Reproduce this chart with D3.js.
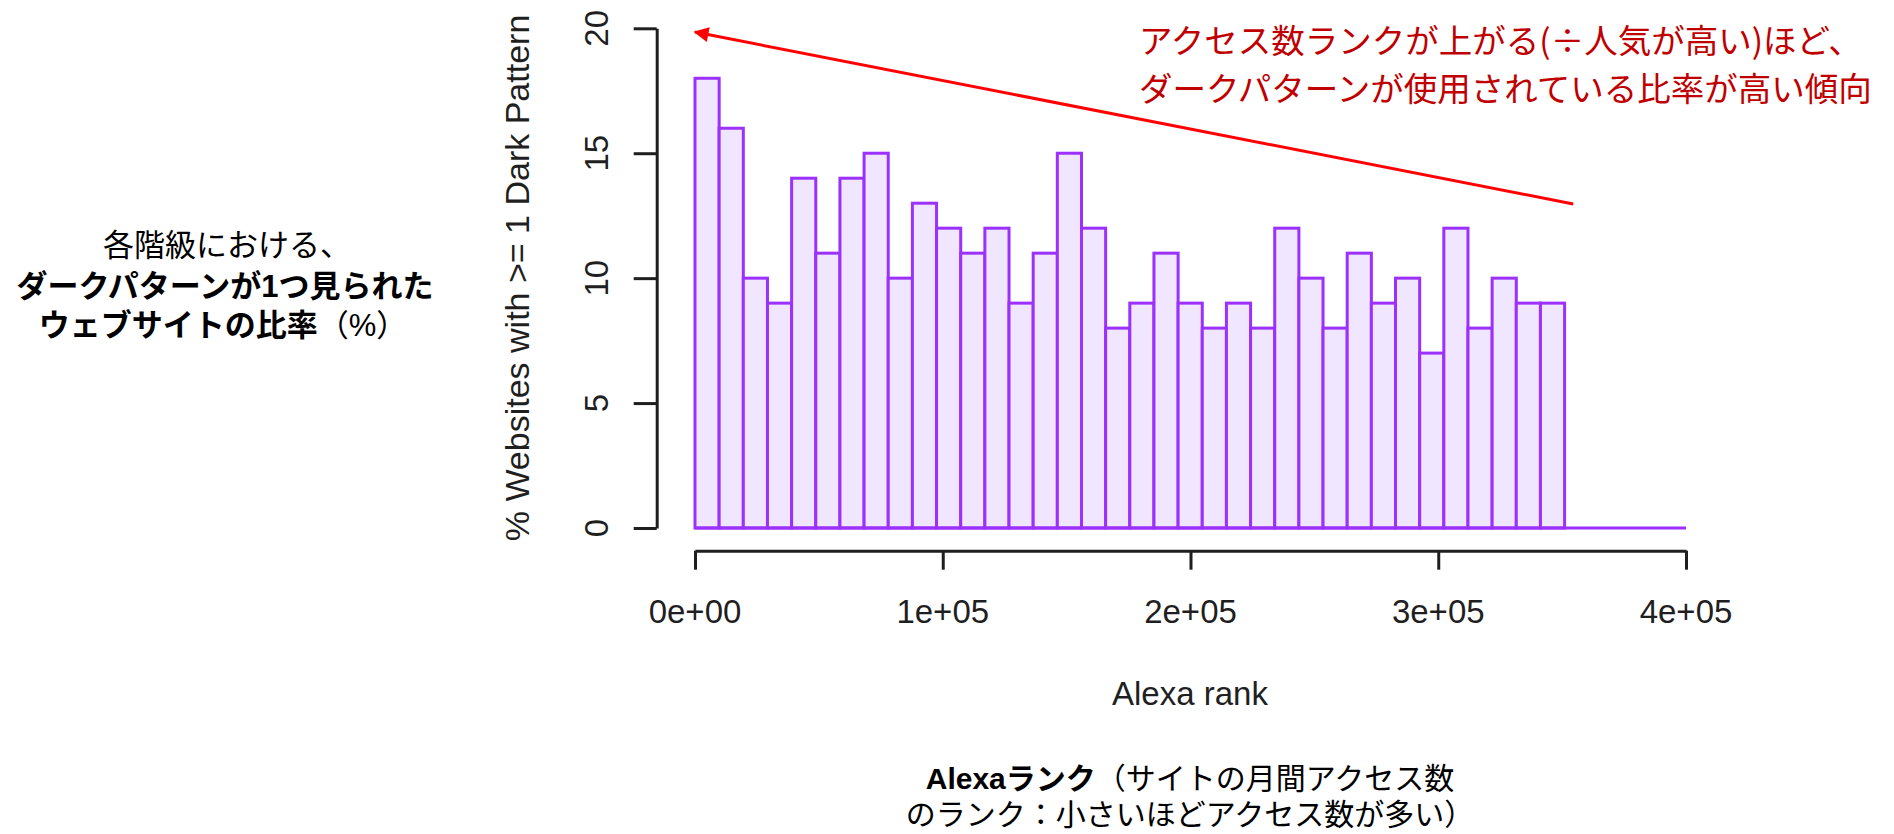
<!DOCTYPE html>
<html>
<head>
<meta charset="utf-8">
<script src="https://cdn.jsdelivr.net/npm/d3@7/dist/d3.min.js"></script>
<style>
	html, body { margin: 0; padding: 0; background: #fff; }
	svg { display: block; }
</style>
</head>
<body>
<div id="chart"></div>
<script>
// histogram of Alexa rank, bins of ~9750 ranks starting at 0
const binWidth = 9750;
const percents = [18, 16, 10, 9, 14, 11, 14, 15, 10, 13, 12, 11, 12, 9, 11, 15, 12, 8,
	9, 11, 9, 8, 9, 8, 12, 10, 8, 11, 9, 10, 7, 12, 8, 10, 9, 9];

const xTicks = [0, 100000, 200000, 300000, 400000];
const xTickLabels = ["0e+00", "1e+05", "2e+05", "3e+05", "4e+05"];
const yTicks = [0, 5, 10, 15, 20];

// red trend arrow, in data units: [rank, percent]
const arrowFrom = [354500, 12.97];
const arrowTo = [0, 19.85];

const noteLines = [
	"アクセス数ランクが上がる(÷人気が高い)ほど、",
	"ダークパターンが使用されている比率が高い傾向"
];

const W = 1894, H = 834;
const PURPLE = "#9b30ff", FILL = "#f0e6ff", INK = "#1f1f1f";
const LATIN = "'Liberation Sans', Arial, Helvetica, sans-serif";
const JP = "'Noto Sans CJK JP', sans-serif";
// Latin face first keeps the line boxes tight; kana/kanji fall back to Noto CJK
const JP_LABEL = "'Liberation Sans', 'Noto Sans CJK JP', sans-serif";

const svg = d3.select("#chart").append("svg")
	.attr("width", W)
	.attr("height", H);

const x = d3.scaleLinear().domain([0, 400000]).range([695, 1686]);
const y = d3.scaleLinear().domain([0, 20]).range([528, 28.3]);

// bars
svg.append("g")
	.selectAll("rect")
	.data(percents)
	.join("rect")
	.attr("x", (d, i) => x(i * binWidth))
	.attr("width", (d, i) => x((i + 1) * binWidth) - x(i * binWidth))
	.attr("y", d => y(d))
	.attr("height", d => y(0) - y(d))
	.attr("fill", FILL)
	.attr("stroke", PURPLE)
	.attr("stroke-width", 3);

// empty bins up to the end of the axis
svg.append("line")
	.attr("x1", x(0)).attr("x2", x(400000))
	.attr("y1", y(0)).attr("y2", y(0))
	.attr("stroke", PURPLE)
	.attr("stroke-width", 3);

// y axis (R style, offset to the left)
const yAxis = svg.append("g")
	.attr("transform", "translate(656.7,0)")
	.call(d3.axisLeft(y).tickValues(yTicks).tickSize(23).tickSizeOuter(0).tickFormat(""));
yAxis.selectAll("path, line").attr("stroke", INK).attr("stroke-width", 3);

svg.append("g")
	.selectAll("text")
	.data(yTicks)
	.join("text")
	.attr("transform", d => `translate(608,${y(d)}) rotate(-90)`)
	.attr("text-anchor", "middle")
	.style("font-family", LATIN)
	.style("font-size", "33px")
	.style("fill", INK)
	.text(d => d);

// x axis
const xAxis = svg.append("g")
	.attr("transform", "translate(0,550.7)")
	.call(d3.axisBottom(x).tickValues(xTicks).tickSize(19).tickSizeOuter(0).tickFormat(""));
xAxis.selectAll("path, line").attr("stroke", INK).attr("stroke-width", 3);

svg.append("g")
	.selectAll("text")
	.data(xTicks)
	.join("text")
	.attr("x", d => x(d))
	.attr("y", 623)
	.attr("text-anchor", "middle")
	.style("font-family", LATIN)
	.style("font-size", "33px")
	.style("fill", INK)
	.text((d, i) => xTickLabels[i]);

// axis titles
svg.append("text")
	.attr("x", 1190)
	.attr("y", 705)
	.attr("text-anchor", "middle")
	.style("font-family", LATIN)
	.style("font-size", "33px")
	.style("fill", INK)
	.text("Alexa rank");

svg.append("text")
	.attr("transform", "translate(529,278) rotate(-90)")
	.attr("text-anchor", "middle")
	.style("font-family", LATIN)
	.style("font-size", "34px")
	.style("fill", INK)
	.text("% Websites with >= 1 Dark Pattern");

// red arrow
svg.append("defs").append("marker")
	.attr("id", "head")
	.attr("viewBox", "0 0 10 10")
	.attr("refX", 9).attr("refY", 5)
	.attr("markerWidth", 6).attr("markerHeight", 5)
	.attr("markerUnits", "strokeWidth")
	.attr("orient", "auto")
	.append("path")
	.attr("d", "M0,0 L10,5 L0,10 z")
	.attr("fill", "#ff0000");

svg.append("line")
	.attr("x1", x(arrowFrom[0])).attr("y1", y(arrowFrom[1]))
	.attr("x2", x(arrowTo[0])).attr("y2", y(arrowTo[1]))
	.attr("stroke", "#ff0000")
	.attr("stroke-width", 3)
	.attr("marker-end", "url(#head)");

// red note
svg.append("g")
	.selectAll("text")
	.data(noteLines)
	.join("text")
	.attr("x", 1139)
	.attr("y", (d, i) => 53 + i * 48)
	.style("font-family", JP)
	.style("font-size", "33.5px")
	.style("fill", "#c00000")
	.text(d => d);

// left Japanese label
const leftLines = [
	{ x: 227, y: 256, parts: [["各階級における、", "normal"]] },
	{ x: 225, y: 297, parts: [["ダークパターンが1つ見られた", "bold"]] },
	{ x: 223, y: 336, parts: [["ウェブサイトの比率", "bold"], ["（%）", "normal"]] }
];
svg.append("g")
	.selectAll("text")
	.data(leftLines)
	.join("text")
	.attr("x", d => d.x)
	.attr("y", d => d.y)
	.attr("text-anchor", "middle")
	.style("font-family", JP_LABEL)
	.style("font-size", "31px")
	.style("fill", "#000")
	.each(function(d) {
		d3.select(this).selectAll("tspan")
			.data(d.parts)
			.join("tspan")
			.style("font-weight", p => p[1])
			.text(p => p[0]);
	});

// bottom Japanese label
const bottomLines = [
	{ y: 789, parts: [["Alexaランク", "bold"], ["（サイトの月間アクセス数", "normal"]] },
	{ y: 825, parts: [["のランク：小さいほどアクセス数が多い）", "normal"]] }
];
svg.append("g")
	.selectAll("text")
	.data(bottomLines)
	.join("text")
	.attr("x", 1190)
	.attr("y", d => d.y)
	.attr("text-anchor", "middle")
	.style("font-family", JP_LABEL)
	.style("font-size", "30px")
	.style("fill", "#000")
	.each(function(d) {
		d3.select(this).selectAll("tspan")
			.data(d.parts)
			.join("tspan")
			.style("font-weight", p => p[1])
			.text(p => p[0]);
	});
</script>
</body>
</html>
